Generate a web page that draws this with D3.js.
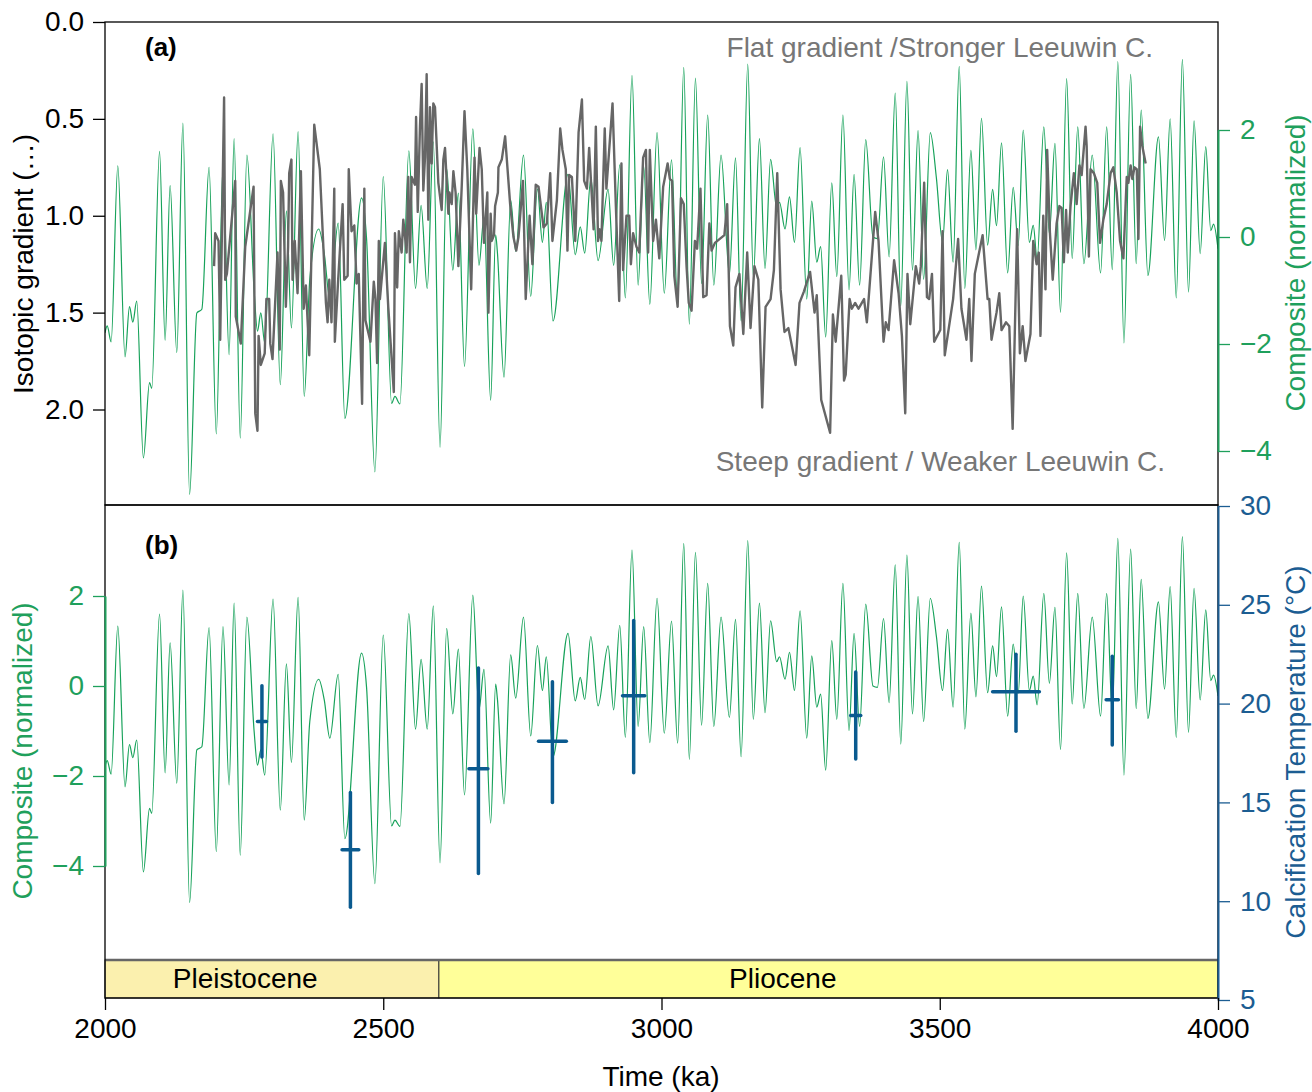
<!DOCTYPE html>
<html>
<head>
<meta charset="utf-8">
<script src="https://cdn.jsdelivr.net/npm/d3@7"></script>
<style>
  html, body { margin: 0; padding: 0; background: #fff; }
  svg { display: block; font-family: "Liberation Sans", Arial, sans-serif; }
</style>
</head>
<body>
<svg id="chart" width="1312" height="1092"></svg>
<script>
// ---------------- DATA ----------------
const compositeKa = [2000,2004,2011,2023,2036,2044,2050,2057,2069,2080,2084,2098,2108,2117,2129,2140,2152,2165,2174,2187,2200,2212,2223,2232,2243,2255,2268,2274,2280,2287,2302,2315,2326,2335,2347,2358,2368,2384,2394,2404,2419,2431,2461,2470,2485,2500,2515,2521,2530,2546,2558,2568,2579,2590,2602,2614,2625,2635,2646,2661,2672,2681,2693,2702,2705,2717,2729,2738,2752,2765,2777,2786,2793,2805,2832,2845,2854,2862,2873,2886,2904,2914,2925,2935,2947,2958,2968,2979,2992,3005,3018,3029,3040,3050,3061,3072,3083,3094,3107,3122,3133,3143,3155,3165,3176,3186,3196,3207,3212,3222,3230,3239,3249,3261,3270,3279,3286,3295,3306,3315,3326,3337,3346,3356,3367,3380,3388,3399,3409,3420,3430,3441,3451,3461,3471,3483,3494,3505,3514,3524,3535,3545,3556,3565,3575,3586,3595,3602,3611,3622,3632,3641,3650,3661,3668,3675,3687,3697,3707,3717,3728,3738,3748,3759,3774,3789,3800,3810,3820,3831,3843,3853,3862,3874,3893,3904,3914,3925,3936,3947,3957,3968,3978,3987,3992,4000];
const compositeVal = [-1.79,-1.66,-1.96,1.33,-2.24,-1.30,-1.59,-1.20,-4.13,-2.72,-2.83,1.60,-1.93,0.96,-2.16,2.13,-4.81,-1.42,-1.35,1.30,-3.68,1.32,-2.20,1.84,-3.76,1.53,-1.01,-1.76,-1.42,-1.98,1.93,-2.76,0.49,-1.70,1.97,-2.98,-0.79,0.15,-0.31,-1.16,0.26,-3.39,0.73,-0.03,-4.39,1.13,-3.11,-2.98,-3.12,1.61,-0.96,0.59,-0.96,1.78,-3.93,1.28,-0.62,0.82,-2.42,2.02,-0.53,0.37,-3.05,0.04,-0.27,-2.62,0.69,-0.27,1.53,-1.11,0.90,-0.10,0.65,-1.57,1.17,-0.33,0.19,-0.30,1.10,-0.44,0.89,-0.53,1.35,-1.14,3.02,-0.90,1.32,-1.26,1.95,-1.05,1.44,-1.27,3.17,-1.63,2.97,-0.87,2.28,-0.90,1.53,-0.70,1.48,-1.57,3.23,-0.74,1.84,-0.59,1.45,0.54,0.65,0.15,0.75,-0.10,1.67,-1.16,0.67,-0.47,-0.18,-1.87,1.01,-0.74,2.28,-0.99,1.17,-0.90,1.82,0.00,-0.03,1.50,-0.37,2.69,-1.29,2.91,-0.62,1.99,-0.79,1.95,1.10,-0.10,1.26,-0.47,3.19,-0.96,1.62,-0.24,2.22,-0.15,0.89,0.21,1.76,-0.67,0.93,-0.16,2.00,-0.10,0.22,-0.42,2.06,0.06,1.75,-1.41,2.96,-0.40,2.06,-0.50,1.53,-0.67,2.06,-0.61,3.28,-1.98,3.04,-0.50,2.37,-0.72,1.87,-0.07,2.21,-1.14,3.32,-1.03,2.17,-0.31,1.69,0.12,0.24,-0.22];

const gradientKa = [2196,2198,2204,2207,2214,2216,2219,2234,2235,2244,2252,2267,2270,2274,2276,2280,2287,2290,2295,2297,2301,2310,2314,2316,2320,2325,2329,2331,2335,2337,2341,2346,2352,2357,2361,2367,2376,2386,2397,2400,2403,2407,2412,2413,2419,2427,2430,2436,2438,2443,2448,2452,2456,2462,2466,2468,2477,2483,2486,2489,2492,2494,2503,2509,2519,2521,2525,2528,2533,2536,2542,2545,2548,2551,2557,2559,2562,2566,2569,2572,2575,2578,2581,2584,2587,2590,2593,2599,2605,2608,2611,2617,2619,2623,2626,2630,2635,2641,2646,2651,2658,2664,2667,2673,2677,2681,2687,2689,2693,2695,2699,2701,2706,2707,2713,2719,2728,2734,2739,2743,2751,2756,2763,2768,2774,2779,2788,2794,2800,2804,2812,2818,2822,2828,2831,2834,2839,2845,2851,2857,2861,2866,2870,2878,2882,2886,2889,2892,2898,2901,2912,2918,2924,2928,2931,2937,2942,2945,2949,2955,2960,2967,2972,2976,2979,2985,2990,2996,3003,3011,3015,3019,3023,3029,3035,3040,3045,3049,3054,3060,3064,3070,3075,3081,3086,3090,3096,3113,3118,3123,3129,3133,3140,3147,3154,3160,3167,3174,3181,3187,3196,3202,3208,3214,3221,3228,3241,3248,3256,3267,3275,3279,3287,3303,3308,3313,3323,3328,3331,3338,3342,3348,3354,3360,3364,3369,3384,3390,3399,3403,3408,3418,3426,3432,3438,3442,3447,3457,3463,3466,3472,3477,3481,3486,3490,3501,3505,3509,3524,3533,3539,3548,3553,3557,3563,3577,3586,3589,3593,3602,3607,3611,3619,3625,3631,3639,3644,3649,3654,3663,3668,3674,3678,3681,3686,3690,3693,3698,3703,3710,3715,3719,3723,3727,3730,3735,3741,3746,3751,3755,3762,3764,3768,3771,3777,3783,3788,3794,3800,3807,3812,3818,3824,3830,3836,3839,3843,3846,3850,3854,3857,3860,3864,3870];
const gradientVal = [1.26,1.09,1.13,1.64,0.39,1.33,1.30,0.82,1.52,1.66,1.16,0.85,2.02,2.11,1.62,1.77,1.71,1.43,1.43,1.66,1.74,1.19,1.69,0.82,0.88,1.47,1.16,0.78,0.71,1.33,1.13,1.40,0.77,1.48,1.36,1.72,0.53,0.76,1.45,1.55,1.33,1.55,0.86,1.65,1.33,0.94,1.33,1.31,0.76,1.08,1.05,1.35,1.30,1.97,0.86,1.54,1.65,1.34,1.43,1.76,1.13,1.43,1.14,1.47,1.91,1.09,1.37,1.08,1.19,1.02,1.19,0.80,1.24,0.80,0.84,0.49,0.98,0.54,0.32,0.87,0.70,0.27,1.02,0.44,0.73,0.42,0.44,0.83,0.97,0.71,0.65,0.99,0.88,0.94,0.77,0.88,1.26,0.85,0.46,0.76,1.38,0.70,0.99,0.65,0.76,1.14,0.88,1.50,0.99,1.13,1.10,0.95,0.88,0.75,0.71,0.59,0.94,1.11,1.18,1.11,0.82,1.43,1.00,1.25,0.84,0.85,1.06,1.04,0.78,1.13,0.92,0.55,0.66,0.76,1.18,0.79,0.80,1.13,0.57,0.40,0.82,0.86,0.65,1.07,0.54,1.13,1.07,1.13,0.55,0.86,0.42,0.95,1.44,0.73,1.28,1.00,1.00,1.25,1.09,1.16,1.19,0.70,0.66,1.19,0.66,1.13,1.02,1.22,0.85,0.73,0.81,0.82,1.31,1.47,0.91,0.94,1.26,1.45,1.49,1.13,1.17,0.86,1.42,1.41,1.04,1.18,1.14,1.10,0.94,1.57,1.67,1.37,1.30,1.61,1.19,1.58,1.26,1.33,1.99,1.47,1.43,1.28,0.78,1.38,1.60,1.58,1.77,1.45,1.39,1.29,1.50,1.41,1.95,2.12,1.51,1.65,1.31,1.85,1.82,1.43,1.48,1.45,1.48,1.45,1.43,1.55,0.98,1.13,1.65,1.55,1.59,1.23,1.40,1.62,2.02,1.30,1.56,1.26,1.35,1.26,0.83,1.42,1.43,1.30,1.65,1.59,1.08,1.72,1.43,1.12,1.48,1.64,1.43,1.75,1.30,1.10,1.43,1.43,1.64,1.50,1.40,1.59,1.55,1.57,2.10,1.07,1.71,1.57,1.75,1.61,1.13,1.25,1.19,1.62,1.00,1.38,0.66,1.09,1.33,1.04,0.95,0.96,1.24,0.97,1.19,0.95,0.78,0.94,0.74,0.79,0.54,0.64,1.21,0.76,0.78,0.83,1.14,1.02,0.94,0.78,0.75,0.88,1.13,1.22,0.80,0.83,0.74,0.81,0.75,0.76,1.12,0.54,0.64,0.73];

const tempKa   = [2282, 2441, 2671, 2804, 2950, 3349, 3637, 3810];
const tempVal  = [19.1, 12.6, 16.7, 18.1, 20.4, 19.4, 20.6, 20.2];
const tempLow  = [17.3,  9.7, 11.4, 15.0, 16.5, 17.2, 18.6, 17.9];
const tempHigh = [20.9, 15.5, 21.8, 21.1, 24.2, 21.6, 22.5, 22.4];
const tempKaErr = [8, 15, 17, 25, 20, 9, 42, 11];

const epochNames = ["Pleistocene", "Pliocene"];
const epochStart = [2000, 2600];
const epochEnd   = [2600, 4000];
const epochLabelKa = [2252, 3218];

const timeTicks = [2000, 2500, 3000, 3500, 4000];
const gradientTicks = [0, 0.5, 1.0, 1.5, 2.0];
const compositeTicks = [2, 0, -2, -4];
const tempTicks = [30, 25, 20, 15, 10, 5];

// ---------------- STYLE ----------------
const GREEN = "#17a25a";
const GREEN_TXT = "#1fa05c";
const GRAY = "#666666";
const BLUE = "#0a5a8f";
const BLUE_TXT = "#1c5d92";
const FS = 28;

const svg = d3.select("#chart");

const L = 105, R = 1218;
const A_TOP = 22, A_BOT = 505, B_BOT = 998;
const ERA_TOP = 960;

const x = d3.scaleLinear().domain([2000, 4000]).range([L, R]);
const yGrad = d3.scaleLinear().domain([0, 2]).range([22, 409.5]);
const yCompA = d3.scaleLinear().domain([2, -4]).range([130, 451]);
const yCompB = d3.scaleLinear().domain([2, -4]).range([596, 866]);
const yTemp = d3.scaleLinear().domain([30, 5]).range([506, 1000]);

const composite = compositeKa.map((k, i) => ({ka: k, v: compositeVal[i]}));
const gradient = gradientKa.map((k, i) => ({ka: k, v: gradientVal[i]}));
const temps = tempKa.map((k, i) => ({ka: k, v: tempVal[i], lo: tempLow[i], hi: tempHigh[i], e: tempKaErr[i]}));

// era bar
const era = svg.append("g");
era.selectAll("rect").data(epochNames).join("rect")
  .attr("x", (d, i) => x(epochStart[i]))
  .attr("width", (d, i) => x(epochEnd[i]) - x(epochStart[i]))
  .attr("y", ERA_TOP).attr("height", B_BOT - ERA_TOP)
  .attr("fill", (d, i) => i === 0 ? "#fbf0ae" : "#ffff99")
  .attr("stroke", "#333").attr("stroke-width", 1);
era.append("line").attr("x1", L).attr("x2", R).attr("y1", ERA_TOP).attr("y2", ERA_TOP)
  .attr("stroke", "#666").attr("stroke-width", 2.5);
era.selectAll("text").data(epochNames).join("text")
  .attr("x", (d, i) => x(epochLabelKa[i]))
  .attr("y", 978)
  .attr("text-anchor", "middle").attr("dominant-baseline", "central")
  .attr("font-size", FS).attr("fill", "#000").text(d => d);

// clip paths
const defs = svg.append("defs");
defs.append("clipPath").attr("id", "clipA").append("rect").attr("x", L).attr("y", A_TOP).attr("width", R - L).attr("height", A_BOT - A_TOP);
defs.append("clipPath").attr("id", "clipB").append("rect").attr("x", L).attr("y", A_BOT).attr("width", R - L).attr("height", ERA_TOP - A_BOT);

// panel a lines
const lineCompA = d3.line().x(d => x(d.ka)).y(d => yCompA(d.v)).curve(d3.curveMonotoneX);
const lineGrad = d3.line().x(d => x(d.ka)).y(d => yGrad(d.v));
const gA = svg.append("g").attr("clip-path", "url(#clipA)");
gA.append("path").datum(composite).attr("d", lineCompA)
  .attr("fill", "none").attr("stroke", GREEN).attr("stroke-width", 1.2);
gA.append("path").datum(gradient).attr("d", lineGrad)
  .attr("fill", "none").attr("stroke", GRAY).attr("stroke-width", 2.4).attr("stroke-linejoin", "round");

// panel b lines
const lineCompB = d3.line().x(d => x(d.ka)).y(d => yCompB(d.v)).curve(d3.curveMonotoneX);
const gB = svg.append("g").attr("clip-path", "url(#clipB)");
gB.append("path").datum(composite).attr("d", lineCompB)
  .attr("fill", "none").attr("stroke", GREEN).attr("stroke-width", 1.2);
const eb = gB.append("g").attr("stroke", BLUE).attr("stroke-width", 3.5).attr("stroke-linecap", "round");
eb.selectAll("line.v").data(temps).join("line").attr("class", "v")
  .attr("x1", d => x(d.ka)).attr("x2", d => x(d.ka))
  .attr("y1", d => yTemp(d.lo)).attr("y2", d => yTemp(d.hi));
eb.selectAll("line.h").data(temps).join("line").attr("class", "h")
  .attr("x1", d => x(d.ka - d.e)).attr("x2", d => x(d.ka + d.e))
  .attr("y1", d => yTemp(d.v)).attr("y2", d => yTemp(d.v));

// frames
const frame = svg.append("g").attr("fill", "none").attr("stroke", "#000").attr("stroke-width", 1.3);
frame.append("rect").attr("x", L).attr("y", A_TOP).attr("width", R - L).attr("height", A_BOT - A_TOP);
frame.append("rect").attr("x", L).attr("y", A_BOT).attr("width", R - L).attr("height", B_BOT - A_BOT);

function styleAxis(g, color) {
  g.selectAll("text").attr("font-size", FS).attr("fill", color).attr("font-family", '"Liberation Sans", Arial, sans-serif');
  g.selectAll("line").attr("stroke", color).attr("stroke-width", 1.3);
  g.selectAll("path.domain").attr("stroke", color).attr("stroke-width", 2);
}

// left axis a
const axA = svg.append("g").attr("transform", `translate(${L},0)`)
  .call(d3.axisLeft(yGrad).tickValues(gradientTicks).tickFormat(d3.format(".1f")).tickSize(12).tickPadding(9));
axA.select("path.domain").remove();
styleAxis(axA, "#000");

// right axis a
const axAR = svg.append("g").attr("transform", `translate(${R},0)`)
  .call(d3.axisRight(yCompA).tickValues(compositeTicks).tickFormat(d3.format("d")).tickSize(12).tickSizeOuter(0).tickPadding(10));
styleAxis(axAR, GREEN_TXT);

// left axis b
const axB = svg.append("g").attr("transform", `translate(${L},0)`)
  .call(d3.axisLeft(yCompB).tickValues(compositeTicks).tickFormat(d3.format("d")).tickSize(12).tickSizeOuter(0).tickPadding(9));
styleAxis(axB, GREEN_TXT);

// right axis b
const axBR = svg.append("g").attr("transform", `translate(${R},0)`)
  .call(d3.axisRight(yTemp).tickValues(tempTicks).tickSize(12).tickSizeOuter(0).tickPadding(10));
styleAxis(axBR, BLUE_TXT);

// x axis
const axX = svg.append("g").attr("transform", `translate(0,${B_BOT})`)
  .call(d3.axisBottom(x).tickValues(timeTicks).tickFormat(d3.format("d")).tickSize(12).tickPadding(8));
axX.select("path.domain").remove();
styleAxis(axX, "#000");

// titles
function vtitle(cx, cy, txt, color) {
  svg.append("text").attr("transform", `translate(${cx},${cy}) rotate(-90)`)
    .attr("text-anchor", "middle").attr("dominant-baseline", "central")
    .attr("font-size", FS).attr("fill", color).text(txt);
}
vtitle(23, 264, "Isotopic gradient (\u2026)", "#000");
vtitle(1295, 263, "Composite (normalized)", GREEN_TXT);
vtitle(22, 751, "Composite (normalized)", GREEN_TXT);
vtitle(1295, 752, "Calcification Temperature (\u00B0C)", BLUE_TXT);

svg.append("text").attr("x", 661).attr("y", 1076).attr("text-anchor", "middle")
  .attr("dominant-baseline", "central").attr("font-size", FS).text("Time (ka)");

// panel labels
svg.append("text").attr("x", 145).attr("y", 47).attr("dominant-baseline", "central")
  .attr("font-size", 26).attr("font-weight", "bold").text("(a)");
svg.append("text").attr("x", 145).attr("y", 545).attr("dominant-baseline", "central")
  .attr("font-size", 26).attr("font-weight", "bold").text("(b)");

// annotations
svg.append("text").attr("x", 1153).attr("y", 47).attr("text-anchor", "end").attr("dominant-baseline", "central")
  .attr("font-size", FS).attr("fill", "#777").text("Flat gradient /Stronger Leeuwin C.");
svg.append("text").attr("x", 1165).attr("y", 461).attr("text-anchor", "end").attr("dominant-baseline", "central")
  .attr("font-size", FS).attr("fill", "#777").text("Steep gradient / Weaker Leeuwin C.");
</script>
</body>
</html>
